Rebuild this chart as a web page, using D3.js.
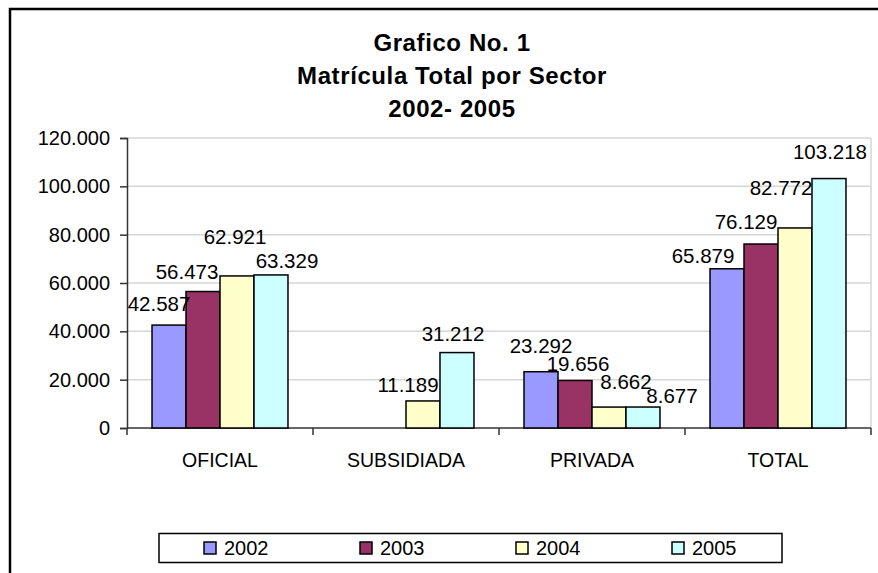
<!DOCTYPE html>
<html>
<head>
<meta charset="utf-8">
<script src="https://cdn.jsdelivr.net/npm/d3@7"></script>
<style>
  html, body { margin: 0; padding: 0; background: #fff; overflow: hidden; }
  svg { display: block; font-family: "Liberation Sans", Arial, sans-serif; }
</style>
</head>
<body>
<svg id="chart" width="878" height="573"></svg>
<script>
// ---- data ----
const titleLines = ["Grafico No. 1", "Matrícula Total por Sector", "2002- 2005"];
const categories = ["OFICIAL", "SUBSIDIADA", "PRIVADA", "TOTAL"];
const years = ["2002", "2003", "2004", "2005"];
const values2002 = [42587, null, 23292, 65879];
const values2003 = [56473, null, 19656, 76129];
const values2004 = [62921, 11189, 8662, 82772];
const values2005 = [63329, 31212, 8677, 103218];
const yTicks = [0, 20000, 40000, 60000, 80000, 100000, 120000];
const colors = ["#9999FF", "#993366", "#FFFFCC", "#CCFFFF"];
// label nudges (px) relative to bar centre / bar top, as placed in the original
const labelDx = [[-10, 0, 0, -24], [-16, 0, 3, -15], [-2, -15, 17, -14], [16, -4, 29, 1]];
const labelDy = [[-14, 0, -19, -6], [-13, 0, -9, -15], [-32, -9, -18, -33], [-7, -12, -4, -20]];

const seriesValues = [values2002, values2003, values2004, values2005];
const fmt = v => d3.format(",.0f")(v).replace(/,/g, ".");

const svg = d3.select("#chart");

// outer chart border (only left/top visible within the viewport)
svg.append("rect").attr("x", 10).attr("y", 9).attr("width", 2000).attr("height", 2000)
  .attr("fill", "#fff").attr("stroke", "#000").attr("stroke-width", 2.5);

// title
const title = svg.append("text").attr("text-anchor", "middle")
  .attr("font-size", 24).attr("font-weight", "bold").attr("fill", "#000")
  .attr("letter-spacing", 0.6);
titleLines.forEach((t, i) => {
  title.append("tspan").attr("x", 452).attr("y", 50.5 + i * 33).text(t);
});

// scales
const plot = { left: 127, right: 871, top: 138, bottom: 428 };
const x0 = d3.scaleBand().domain(categories).range([plot.left, plot.right])
  .paddingInner(0.269).paddingOuter(0.1345);
const x1 = d3.scaleBand().domain(years).range([0, x0.bandwidth()]);
const y = d3.scaleLinear().domain([0, 120000]).range([plot.bottom, plot.top]);

// gridlines
svg.append("g").selectAll("line").data(yTicks.filter(t => t > 0)).join("line")
  .attr("x1", plot.left).attr("x2", plot.right)
  .attr("y1", d => y(d)).attr("y2", d => y(d))
  .attr("stroke", "#d6d6d6").attr("stroke-width", 1.5);
// plot area right border
svg.append("line").attr("x1", plot.right).attr("x2", plot.right)
  .attr("y1", plot.top).attr("y2", plot.bottom)
  .attr("stroke", "#d6d6d6").attr("stroke-width", 1.5);

// y axis
const yAxis = d3.axisLeft(y).tickValues(yTicks).tickFormat(fmt).tickSize(7).tickPadding(10);
const gy = svg.append("g").attr("transform", `translate(${plot.left},0)`).call(yAxis);
gy.select(".domain").attr("stroke", "#333").attr("stroke-width", 1.5);
gy.selectAll(".tick line").attr("stroke", "#333").attr("stroke-width", 1.5);
gy.selectAll(".tick text").attr("font-size", 20).attr("fill", "#000")
  .attr("font-family", "Liberation Sans, Arial, sans-serif");

// x axis
const step = x0.step();
const boundaries = d3.range(categories.length + 1).map(i => plot.left + i * step);
svg.append("line").attr("x1", plot.left).attr("x2", plot.right)
  .attr("y1", plot.bottom).attr("y2", plot.bottom)
  .attr("stroke", "#333").attr("stroke-width", 1.5);
svg.append("g").selectAll("line").data(boundaries).join("line")
  .attr("x1", d => d).attr("x2", d => d)
  .attr("y1", plot.bottom).attr("y2", plot.bottom + 7)
  .attr("stroke", "#333").attr("stroke-width", 1.5);
svg.append("g").selectAll("text").data(categories).join("text")
  .attr("x", d => x0(d) + x0.bandwidth() / 2).attr("y", 466.5)
  .attr("text-anchor", "middle").attr("font-size", 19.5).attr("fill", "#000")
  .text(d => d);

// bars
const bars = [];
seriesValues.forEach((vals, si) => {
  vals.forEach((v, ci) => {
    if (v !== null) bars.push({ si, ci, v });
  });
});
svg.append("g").selectAll("rect").data(bars).join("rect")
  .attr("x", d => x0(categories[d.ci]) + x1(years[d.si]))
  .attr("y", d => y(d.v))
  .attr("width", x1.bandwidth())
  .attr("height", d => y(0) - y(d.v))
  .attr("fill", d => colors[d.si])
  .attr("stroke", "#000").attr("stroke-width", 1.5);

// data labels
svg.append("g").selectAll("text").data(bars).join("text")
  .attr("x", d => x0(categories[d.ci]) + x1(years[d.si]) + x1.bandwidth() / 2 + labelDx[d.si][d.ci])
  .attr("y", d => y(d.v) + labelDy[d.si][d.ci])
  .attr("text-anchor", "middle").attr("font-size", 20.5).attr("fill", "#000")
  .text(d => fmt(d.v));

// legend
const lg = svg.append("g");
lg.append("rect").attr("x", 159).attr("y", 533.5).attr("width", 623).attr("height", 29)
  .attr("fill", "#fff").attr("stroke", "#000").attr("stroke-width", 1.5);
const legendX = d3.scalePoint().domain(years).range([204, 672]);
const items = lg.selectAll("g.item").data(years).join("g").attr("class", "item")
  .attr("transform", d => `translate(${legendX(d)},548)`);
items.append("rect").attr("x", 0).attr("y", -6).attr("width", 12).attr("height", 12)
  .attr("fill", (d, i) => colors[i]).attr("stroke", "#000").attr("stroke-width", 1.5);
items.append("text").attr("x", 20).attr("y", 7).attr("font-size", 20).attr("fill", "#000")
  .text(d => d);
</script>
</body>
</html>
